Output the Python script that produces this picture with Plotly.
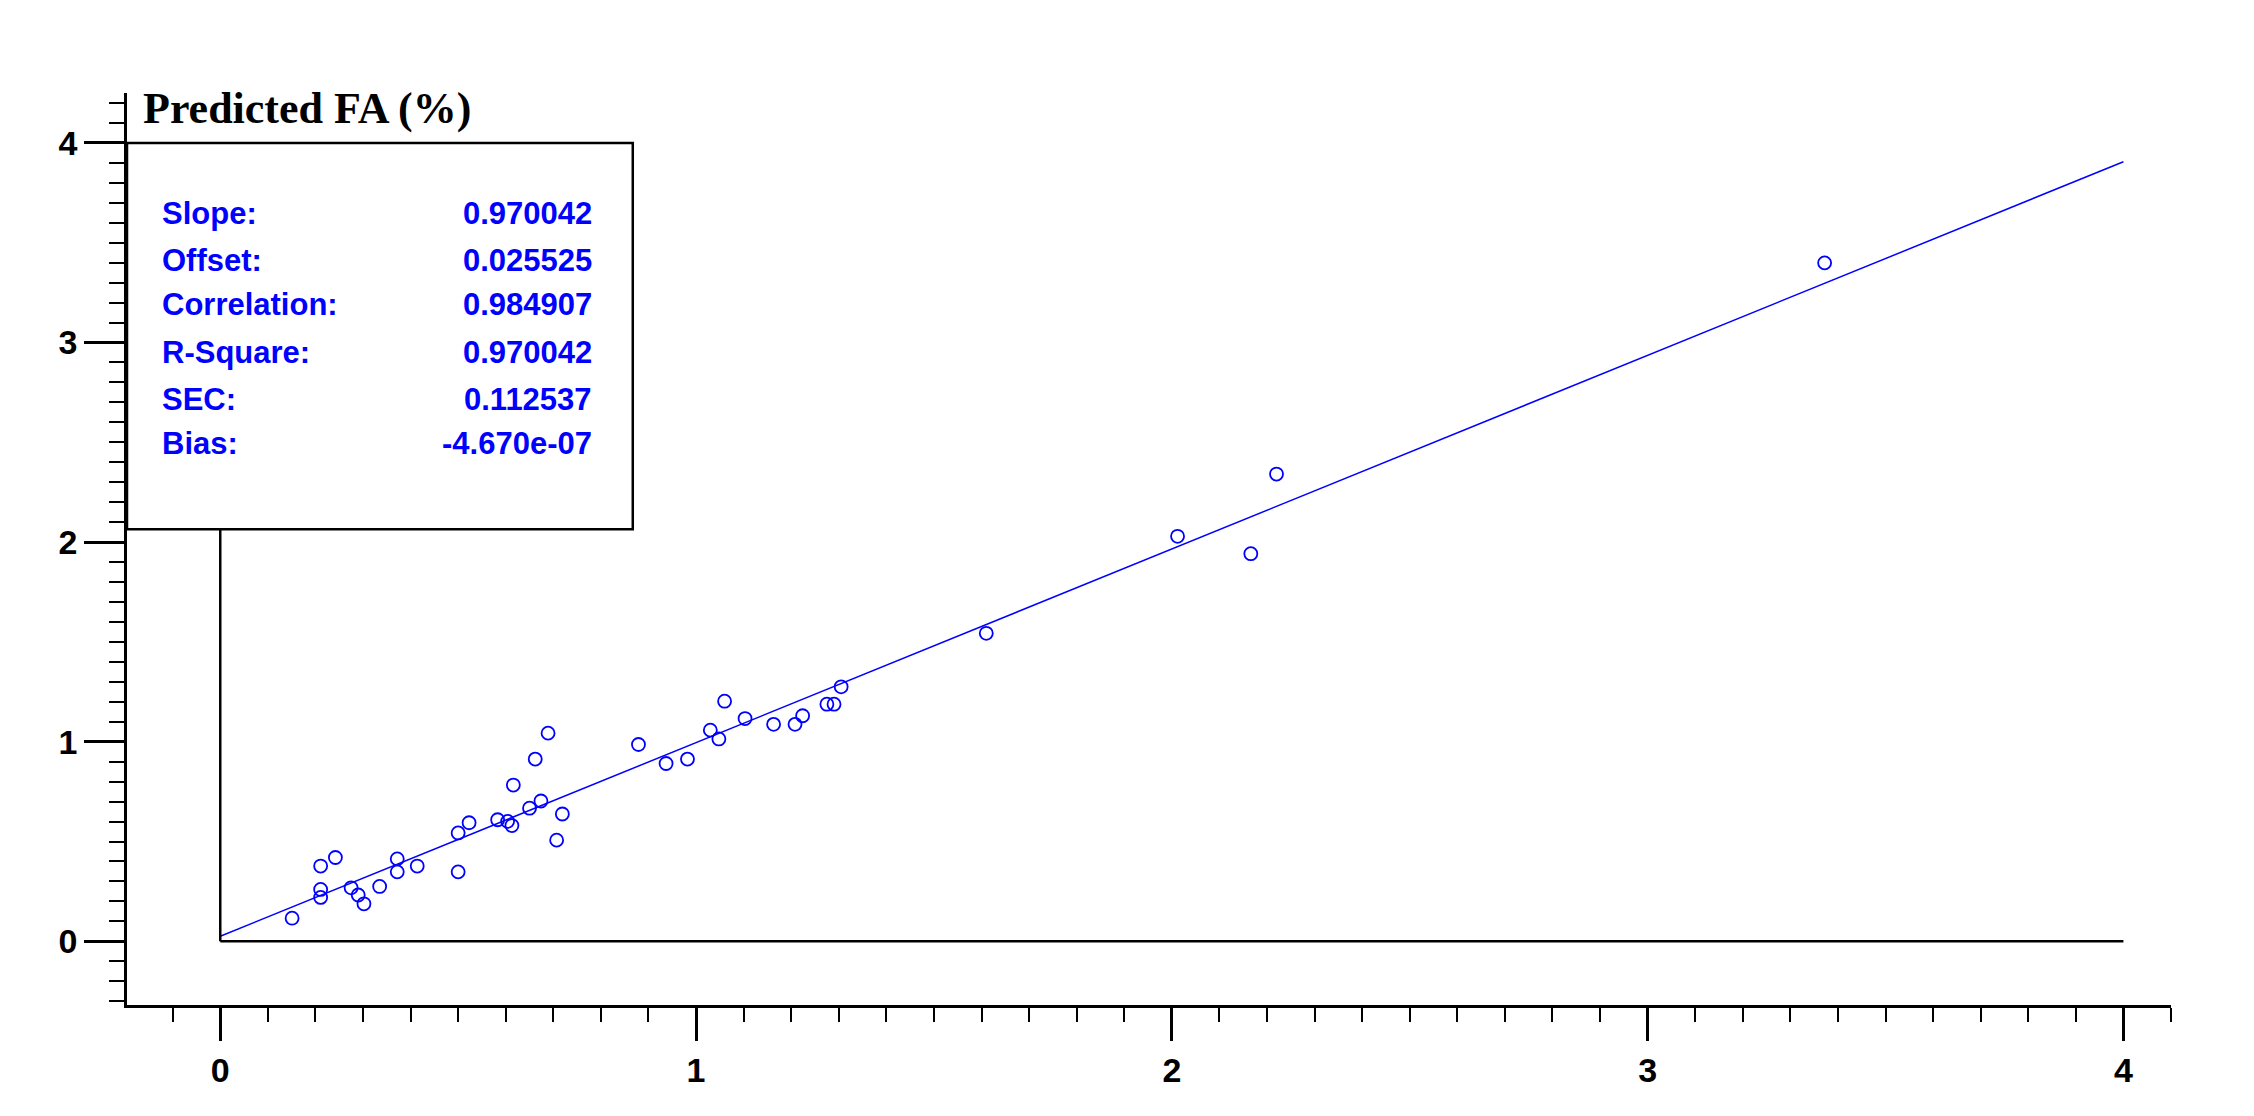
import plotly.graph_objects as go

measured = [0.151,0.211,0.242,0.211,0.211,0.275,0.29,0.302,0.335,0.372,0.372,0.414,0.50,0.50,0.523,
            0.583,0.604,0.613,0.616,0.65,0.662,0.674,0.689,0.707,0.719,0.879,0.937,0.982,1.03,1.048,
            1.06,1.103,1.163,1.208,1.224,1.275,1.29,1.305,1.61,2.012,2.166,2.22,3.372]
predicted = [0.116,0.377,0.42,0.26,0.22,0.268,0.232,0.188,0.275,0.413,0.348,0.377,0.348,0.543,0.594,
             0.609,0.601,0.58,0.783,0.667,0.913,0.703,1.043,0.507,0.638,0.986,0.891,0.913,1.058,1.014,
             1.203,1.116,1.087,1.087,1.13,1.188,1.188,1.275,1.543,2.029,1.942,2.341,3.399]
slope = 0.970042
offset = 0.025525
stat_labels = ["Slope:", "Offset:", "Correlation:", "R-Square:", "SEC:", "Bias:"]
stat_values = ["0.970042", "0.025525", "0.984907", "0.970042", "0.112537", "-4.670e-07"]
line_x = [0, 4]

BLUE = "#0000ff"
fig = go.Figure()
fig.add_trace(go.Scatter(x=line_x, y=[slope * v + offset for v in line_x], mode="lines",
                         line=dict(color=BLUE, width=1.5), showlegend=False))
fig.add_trace(go.Scatter(x=measured, y=predicted, mode="markers",
                         marker=dict(symbol="circle-open", size=13, color=BLUE, line=dict(width=1.8)),
                         showlegend=False))

fig.add_shape(type="line", xref="x", yref="y", x0=0, x1=4, y0=0, y1=0, line=dict(color="black", width=2.5))
fig.add_shape(type="line", xref="x", yref="y", x0=0, x1=0, y0=0, y1=2.07, line=dict(color="black", width=2.5))
fig.add_shape(type="rect", xref="x", yref="y", x0=-0.196, x1=0.867, y0=2.065, y1=4.0,
              line=dict(color="black", width=2.5), fillcolor="white", layer="above")

ys = [3.645, 3.413, 3.188, 2.949, 2.717, 2.493]
for lab, val, yy in zip(stat_labels, stat_values, ys):
    fig.add_annotation(x=-0.127, y=yy, text="<b>"+lab+"</b>", showarrow=False, xanchor="left",
                       font=dict(family="Liberation Sans", size=31, color=BLUE))
    fig.add_annotation(x=0.785, y=yy, text="<b>"+val+"</b>", showarrow=False, xanchor="right",
                       font=dict(family="Liberation Sans", size=31, color=BLUE))

fig.add_annotation(x=-0.166, y=4.17, text="<b>Predicted FA (%)</b>", showarrow=False, xanchor="left",
                   font=dict(family="Liberation Serif", size=44, color="black"))
fig.add_annotation(x=4.14, y=-0.16, text="<b>Measured FA (%)</b>", showarrow=False, xanchor="right",
                   font=dict(family="Liberation Serif", size=44, color="black"))

axis_common = dict(showgrid=False, zeroline=False, showline=True, linecolor="black", linewidth=2.5,
                   ticks="outside", tickcolor="black", tickwidth=2.5,
                   tickfont=dict(family="Liberation Sans", size=34, color="black", weight="bold"),
                   tickformat="d", dtick=1)
fig.update_xaxes(range=[-0.196, 4.10], ticklen=33,
                 minor=dict(ticks="outside", dtick=0.1, ticklen=14, tickcolor="black", tickwidth=2),
                 **axis_common)
fig.update_yaxes(range=[-0.319, 4.25], ticklen=40,
                 minor=dict(ticks="outside", dtick=0.1, ticklen=15, tickcolor="black", tickwidth=2),
                 **axis_common)
fig.update_layout(width=2254, height=1116, plot_bgcolor="white", paper_bgcolor="white",
                  margin=dict(l=119, r=91, t=85, b=119))
fig.write_html("out.html")
